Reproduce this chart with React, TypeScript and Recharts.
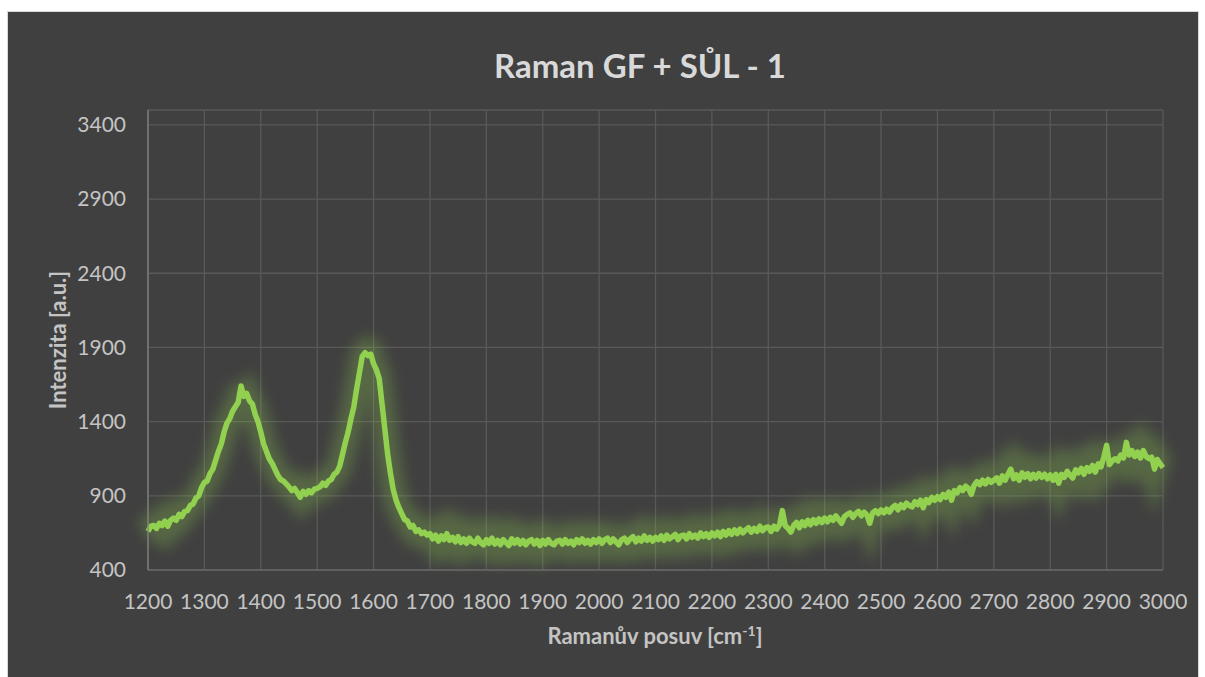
import React from 'react';
import { LineChart, Line, XAxis, YAxis, CartesianGrid } from 'recharts';

// spectrum is sampled every 5 cm-1, starting at 1200
const SHIFT_START = 1200;
const SHIFT_STEP = 5;

// intensity, one block per 100 cm-1 (x00 .. x95)
const block1200 = [660, 695, 700, 680, 715, 700, 730, 695, 735, 750, 735, 775, 760, 795, 800, 835, 845, 885, 900, 955];
const block1300 = [990, 1000, 1050, 1080, 1140, 1200, 1250, 1330, 1390, 1420, 1470, 1500, 1530, 1640, 1570, 1590, 1540, 1520, 1450, 1400];
const block1400 = [1330, 1250, 1200, 1150, 1120, 1080, 1040, 1010, 1000, 980, 960, 935, 950, 920, 890, 930, 910, 935, 920, 945];
const block1500 = [950, 960, 985, 970, 1000, 1010, 1045, 1060, 1100, 1180, 1260, 1330, 1420, 1500, 1620, 1730, 1840, 1865, 1845, 1855];
const block1600 = [1790, 1750, 1690, 1520, 1350, 1180, 1050, 940, 870, 820, 780, 740, 730, 690, 700, 660, 670, 645, 655, 635];
const block1700 = [645, 610, 635, 595, 630, 605, 645, 600, 620, 590, 625, 585, 610, 580, 615, 590, 580, 615, 585, 570];
const block1800 = [605, 580, 615, 575, 600, 570, 605, 585, 565, 610, 580, 605, 575, 600, 570, 595, 605, 575, 600, 565];
const block1900 = [600, 575, 605, 580, 570, 595, 600, 575, 605, 580, 595, 570, 605, 585, 610, 580, 600, 575, 605, 585];
const block2000 = [610, 580, 605, 615, 585, 610, 590, 570, 605, 615, 585, 610, 625, 590, 615, 595, 630, 600, 620, 595];
const block2100 = [620, 605, 630, 600, 635, 610, 625, 640, 605, 630, 635, 610, 645, 620, 635, 615, 650, 625, 645, 620];
const block2200 = [650, 630, 655, 625, 660, 635, 665, 640, 670, 645, 675, 650, 670, 685, 655, 680, 660, 695, 665, 685];
const block2300 = [690, 660, 695, 675, 705, 800, 700, 680, 655, 700, 720, 685, 725, 700, 735, 705, 740, 715, 745, 720];
const block2400 = [750, 725, 755, 735, 765, 740, 715, 760, 775, 785, 755, 780, 795, 765, 790, 770, 715, 785, 800, 780];
const block2500 = [805, 785, 810, 790, 820, 835, 805, 840, 820, 850, 835, 825, 860, 840, 870, 820, 875, 855, 890, 870];
const block2600 = [895, 875, 910, 890, 925, 870, 935, 920, 955, 935, 965, 950, 910, 970, 995, 975, 1005, 980, 1010, 990];
const block2700 = [1005, 1020, 985, 1035, 1005, 1045, 1080, 1015, 1040, 1005, 1055, 1025, 1050, 1015, 1045, 1020, 1050, 1025, 1045, 1015];
const block2800 = [1040, 1005, 1045, 985, 1045, 1025, 1065, 1040, 1020, 1075, 1055, 1085, 1045, 1090, 1065, 1105, 1060, 1115, 1095, 1160];
const block2900 = [1240, 1110, 1135, 1150, 1135, 1175, 1155, 1260, 1175, 1205, 1165, 1195, 1155, 1205, 1165, 1150, 1160, 1080, 1145, 1115];
const block3000 = [1090];

const X_TICKS = [1200, 1300, 1400, 1500, 1600, 1700, 1800, 1900, 2000, 2100, 2200, 2300, 2400, 2500, 2600, 2700, 2800, 2900, 3000];
const Y_TICKS = [400, 900, 1400, 1900, 2400, 2900, 3400];

const intensity = [
  ...block1200, ...block1300, ...block1400, ...block1500, ...block1600, ...block1700,
  ...block1800, ...block1900, ...block2000, ...block2100, ...block2200, ...block2300,
  ...block2400, ...block2500, ...block2600, ...block2700, ...block2800, ...block2900, ...block3000,
];

const data = intensity.map((v, i) => ({ shift: SHIFT_START + i * SHIFT_STEP, intensity: v }));

const TEXT = '#D9D9D9';
const TICK_TEXT = '#C4C4C4';
const GREEN = '#92D050';

export default function App() {
  return (
    <div
      style={{
        position: 'absolute',
        left: 7,
        top: 11,
        width: 1190,
        height: 666,
        background: '#404040',
        border: '1px solid #D9D9D9',
        fontFamily: 'Lato, "Open Sans", sans-serif',
        color: TEXT,
      }}
    >
      <style>{`.raman-glow path { filter: blur(7px); }`}</style>
      <LineChart width={1190} height={666} data={data} margin={{ top: 98, right: 35, bottom: 78, left: 80 }}>
        <CartesianGrid stroke="#595959" strokeWidth={1.3} />
        <XAxis
          dataKey="shift"
          type="number"
          domain={[1200, 3000]}
          ticks={X_TICKS}
          interval={0}
          height={30}
          tickSize={0}
          tickMargin={24}
          axisLine={{ stroke: '#666666', strokeWidth: 1.3 }}
          tick={{ fill: TICK_TEXT, fontSize: 21 }}
        />
        <YAxis
          type="number"
          domain={[400, 3500]}
          ticks={Y_TICKS}
          interval={0}
          width={60}
          tickSize={0}
          tickMargin={22}
          axisLine={{ stroke: '#808080', strokeWidth: 1.3 }}
          tick={{ fill: TICK_TEXT, fontSize: 21 }}
        />
        <Line
          className="raman-glow"
          dataKey="intensity"
          stroke={GREEN}
          strokeOpacity={0.28}
          strokeWidth={24}
          dot={false}
          activeDot={false}
          isAnimationActive={false}
        />
        <Line
          dataKey="intensity"
          stroke={GREEN}
          strokeWidth={5.5}
          strokeLinejoin="round"
          dot={false}
          activeDot={false}
          isAnimationActive={false}
        />
      </LineChart>
      <div
        style={{
          position: 'absolute',
          left: 632,
          top: 33,
          transform: 'translateX(-50%)',
          fontSize: 33,
          fontWeight: 700,
          whiteSpace: 'nowrap',
        }}
      >
        Raman GF + SŮL - 1
      </div>
      <div
        style={{
          position: 'absolute',
          left: 647,
          top: 610,
          transform: 'translateX(-50%)',
          fontSize: 22,
          fontWeight: 700,
          whiteSpace: 'nowrap',
          color: TICK_TEXT,
        }}
      >
        Ramanův posuv [cm<sup style={{ fontSize: 14 }}>-1</sup>]
      </div>
      <div
        style={{
          position: 'absolute',
          left: 49,
          top: 328,
          transform: 'translate(-50%, -50%) rotate(-90deg)',
          fontSize: 22,
          fontWeight: 700,
          whiteSpace: 'nowrap',
          color: TICK_TEXT,
        }}
      >
        Intenzita [a.u.]
      </div>
    </div>
  );
}
